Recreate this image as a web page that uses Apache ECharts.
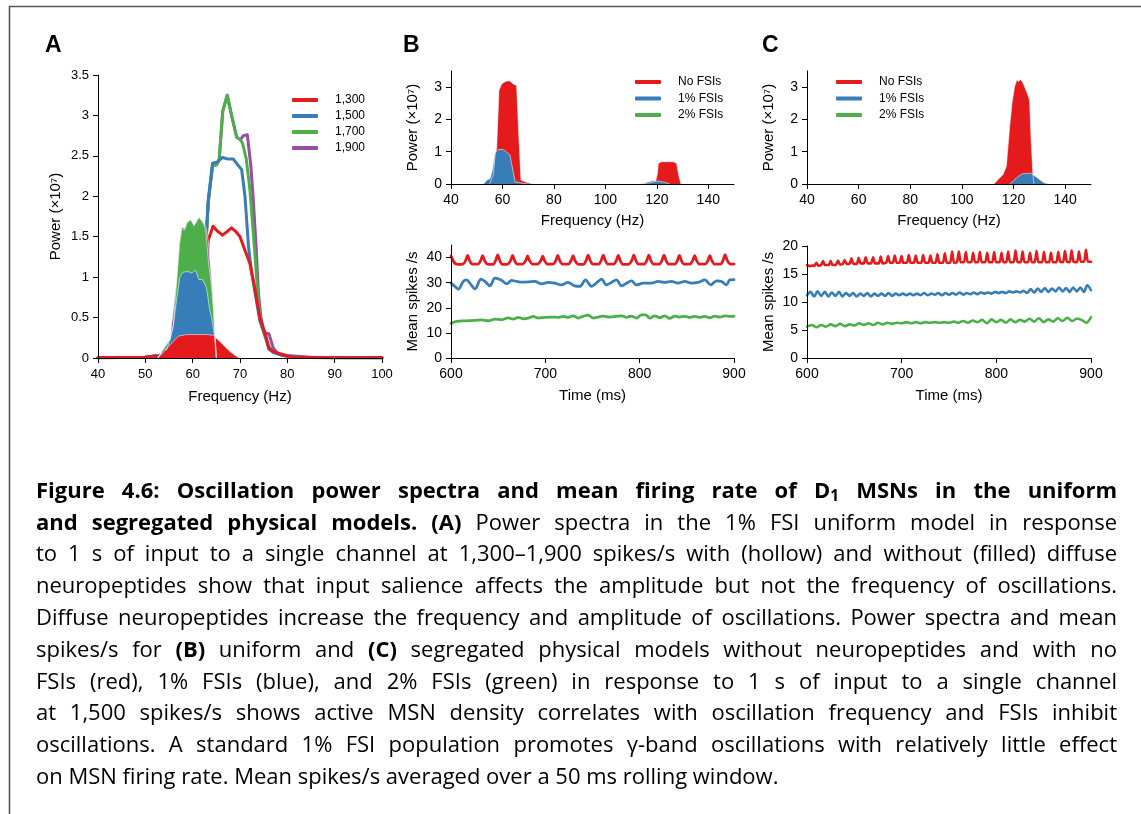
<!DOCTYPE html>
<html>
<head>
<meta charset="utf-8">
<script src="https://cdn.jsdelivr.net/npm/echarts@6/dist/echarts.min.js"></script>
<style>
html,body{margin:0;padding:0;background:#fff;}
#chart{width:1141px;height:814px;}
</style>
</head>
<body>
<div id="chart"></div>
<script>
// ---------------- DATA ----------------
// Panel A: power spectra (x10^7) vs frequency (Hz)
const aFreqTicks = [40, 50, 60, 70, 80, 90, 100];
const aPowerTicks = [0, 0.5, 1, 1.5, 2, 2.5, 3, 3.5];
const aLegend = ['1,300', '1,500', '1,700', '1,900'];

// hollow (with diffuse neuropeptides)
const aRedLineF = [40, 45, 50, 52, 53, 55, 58, 61, 62.5, 63.3, 64.3, 65.2, 66.3, 67.2, 68.2, 69.2, 70.0, 71.0, 72.1, 73.2, 74.2, 75.3, 76.1, 77.0, 78.1, 79.5, 81.3, 85, 90, 95, 100];
const aRedLineP = [0.005, 0.006, 0.01, 0.025, 0.01, 0.1, 0.25, 0.3, 0.6, 1.46, 1.63, 1.57, 1.52, 1.56, 1.61, 1.56, 1.5, 1.34, 1.17, 0.84, 0.49, 0.31, 0.12, 0.08, 0.06, 0.03, 0.01, 0.006, 0.004, 0.003, 0.002];
const aBlueLineF = [40, 50, 53, 55, 58, 61, 62.3, 63.3, 64.2, 65.05, 66.3, 67.5, 68.6, 69.5, 70.35, 71.05, 71.8, 72.4, 73.2, 74.2, 75.3, 76.1, 77.0, 79.0, 82, 90, 100];
const aBlueLineP = [0.004, 0.008, 0.03, 0.1, 0.3, 0.5, 0.9, 1.96, 2.41, 2.42, 2.48, 2.46, 2.46, 2.39, 2.33, 2.0, 1.38, 1.08, 0.8, 0.46, 0.28, 0.11, 0.07, 0.03, 0.01, 0.004, 0.002];
const aGreenLineF = [40, 50, 53, 55, 58, 61, 62.3, 63.3, 64.2, 65.05, 65.6, 66.35, 67.3, 68.3, 69.3, 70.1, 70.5, 71.3, 72.1, 72.6, 73.2, 73.8, 74.3, 75.2, 76.0, 77.0, 79.0, 82, 90, 100];
const aGreenLineP = [0.004, 0.008, 0.03, 0.1, 0.3, 0.5, 0.9, 1.93, 2.38, 2.39, 2.45, 3.05, 3.25, 2.98, 2.73, 2.7, 2.66, 2.47, 2.08, 1.7, 1.25, 0.75, 0.45, 0.28, 0.15, 0.08, 0.03, 0.01, 0.004, 0.002];
const aPurpleLineF = [40, 50, 53, 55, 58, 61, 62.3, 63.3, 64.2, 65.05, 65.6, 66.35, 67.3, 68.3, 69.3, 70.1, 70.7, 71.55, 72.3, 72.8, 73.4, 73.9, 74.4, 75.1, 76.1, 77.05, 77.9, 80, 85, 90, 100];
const aPurpleLineP = [0.004, 0.008, 0.03, 0.1, 0.3, 0.5, 0.9, 1.93, 2.38, 2.39, 2.45, 3.05, 3.25, 2.98, 2.73, 2.7, 2.75, 2.76, 2.37, 1.96, 1.38, 0.8, 0.51, 0.31, 0.3, 0.12, 0.06, 0.03, 0.01, 0.006, 0.003];

// filled (without diffuse neuropeptides)
const aRedFillF = [52.4, 53.5, 54.9, 56, 57.0, 58.7, 61, 63, 64.4, 65.8, 67.0, 67.9, 69.0, 69.8];
const aRedFillP = [0, 0.05, 0.14, 0.21, 0.27, 0.29, 0.29, 0.29, 0.28, 0.2, 0.13, 0.08, 0.03, 0];
const aBlueFillF = [52.7, 53.8, 54.5, 55.2, 55.9, 56.6, 57.3, 57.9, 59.0, 59.8, 60.6, 61.3, 62.1, 62.9, 63.6, 64.0, 64.6, 65.0];
const aBlueFillP = [0, 0.12, 0.1, 0.23, 0.39, 0.72, 1.0, 1.06, 1.07, 1.05, 1.09, 0.97, 0.97, 0.87, 0.6, 0.5, 0.28, 0];
const aGreenFillF = [52.7, 53.8, 55.2, 55.9, 56.6, 57.2, 57.7, 58.3, 58.7, 59.6, 60.3, 60.8, 61.3, 61.9, 62.4, 62.8, 63.45, 64.0, 64.4, 64.7, 65.0];
const aGreenFillP = [0, 0.12, 0.23, 0.4, 0.95, 1.4, 1.6, 1.58, 1.66, 1.71, 1.64, 1.68, 1.74, 1.7, 1.65, 1.55, 1.13, 0.88, 0.6, 0.3, 0];
const aPurpleFillF = [52.7, 55.2, 56.6, 57.2, 57.7, 58.3, 58.8, 59.6, 60.3, 61.3, 61.9, 62.8, 63.3, 63.8, 64.2, 64.6, 65.0];
const aPurpleFillP = [0, 0.23, 0.95, 1.42, 1.62, 1.6, 1.68, 1.71, 1.64, 1.74, 1.7, 1.62, 1.45, 1.1, 0.8, 0.4, 0];

// Panels B/C: spectra
const bcFreqTicks = [40, 60, 80, 100, 120, 140];
const bcPowerTicks = [0, 1, 2, 3];
const bcLegend = ['No FSIs', '1% FSIs', '2% FSIs'];

const bRedF = [55, 56.5, 57.2, 57.75, 58.65, 59.7, 61.0, 62.0, 62.9, 64.2, 65.5, 66.2, 67.2, 68.8, 70.7, 72, 113, 116, 118, 119.5, 120.2, 120.6, 121.9, 123.8, 126.4, 127.7, 128.6, 129.4];
const bRedP = [0, 0.3, 0.95, 1.1, 2.9, 3.1, 3.17, 3.19, 3.19, 3.1, 3.05, 1.77, 0.12, 0.07, 0.02, 0, 0, 0.02, 0.05, 0.08, 0.3, 0.64, 0.69, 0.69, 0.69, 0.64, 0.23, 0];
const bBlueF = [52.6, 53.9, 55.2, 56.1, 57.1, 58.4, 60.3, 61.0, 61.9, 62.9, 63.8, 64.9, 66.8, 68, 70, 114.1, 116.7, 118.6, 120.6, 123.2, 125.1];
const bBlueP = [0, 0.12, 0.17, 0.43, 0.95, 1.07, 1.07, 1.1, 0.97, 0.9, 0.54, 0.07, 0.04, 0.02, 0, 0, 0.07, 0.1, 0.09, 0.05, 0];
const bGreenF = [40, 150];
const bGreenP = [0, 0];

const cRedF = [112.4, 113.9, 115.9, 117.2, 118.5, 119.4, 120.4, 121.3, 121.9, 122.6, 123.4, 124.3, 125.3, 126.2, 126.8, 127.5, 127.9];
const cRedP = [0, 0.13, 0.29, 0.54, 1.78, 2.5, 3.01, 3.24, 3.17, 3.24, 3.17, 3.01, 2.81, 2.6, 1.37, 0.29, 0];
const cBlueF = [118.5, 119.7, 121.0, 122.3, 123.6, 124.9, 126.6, 127.5, 128.8, 130.5, 132, 134];
const cBlueP = [0, 0.08, 0.18, 0.26, 0.32, 0.32, 0.34, 0.29, 0.22, 0.11, 0.03, 0];
const cGreenF = [40, 150];
const cGreenP = [0, 0];

// Panels B/C: mean spikes/s vs time (ms)
const timeTicks = [600, 700, 800, 900];
const bRateTicks = [0, 10, 20, 30, 40];
const cRateTicks = [0, 5, 10, 15, 20];

const bRedT = [600, 602, 604.5, 608,
  612.6, 615.6, 617.6, 619.6, 622.6,
  628.5, 631.5, 633.5, 635.5, 638.5,
  644.5, 647.5, 649.5, 651.5, 654.5,
  660.3, 663.3, 665.3, 667.3, 670.3,
  676.2, 679.2, 681.2, 683.2, 686.2,
  692.2, 695.2, 697.2, 699.2, 702.2,
  708.2, 711.2, 713.2, 715.2, 718.2,
  724.4, 727.4, 729.4, 731.4, 734.4,
  740.4, 743.4, 745.4, 747.4, 750.4,
  756.4, 759.4, 761.4, 763.4, 766.4,
  772.3, 775.3, 777.3, 779.3, 782.3,
  788.8, 791.8, 793.8, 795.8, 798.8,
  804.7, 807.7, 809.7, 811.7, 814.7,
  820.8, 823.8, 825.8, 827.8, 830.8,
  837.1, 840.1, 842.1, 844.1, 847.1,
  853.3, 856.3, 858.3, 860.3, 863.3,
  869.4, 872.4, 874.4, 876.4, 879.4,
  885.6, 888.6, 890.6, 892.6, 895.6,
  900];
const bRedV = [40.6, 39.0, 37.6, 37.3,
  37.4, 38.9, 40.9, 38.9, 37.4,
  37.4, 38.9, 40.8, 38.9, 37.4,
  37.3, 39.0, 41.1, 39.0, 37.3,
  37.4, 38.9, 40.9, 38.9, 37.4,
  37.4, 38.8, 40.7, 38.8, 37.4,
  37.5, 38.8, 40.6, 38.8, 37.4,
  37.4, 38.9, 40.9, 38.9, 37.4,
  37.4, 38.9, 40.8, 38.9, 37.4,
  37.3, 39.0, 41.0, 39.0, 37.4,
  37.4, 39.0, 41.0, 39.0, 37.4,
  37.4, 38.9, 40.9, 38.9, 37.3,
  37.4, 39.0, 41.1, 39.0, 37.4,
  37.4, 39.0, 41.0, 39.0, 37.4,
  37.4, 39.0, 41.0, 39.0, 37.4,
  37.4, 38.9, 40.9, 38.9, 37.4,
  37.4, 38.9, 40.8, 38.9, 37.4,
  37.4, 38.9, 40.8, 38.9, 37.4,
  37.4, 39.1, 41.2, 39.1, 37.5,
  37.4];

const bBlueT = [600, 604, 607.8, 613, 616.6, 620, 625.4, 631.8, 636, 641.3, 646.6, 653, 659, 664.2, 669.5, 675, 682, 689, 696, 703, 710, 717, 724, 731.3, 736.6, 742.6, 749, 754, 759.6, 764.8, 770, 775.4, 780.7, 786, 791.3, 796.6, 803.7, 812.5, 819.6, 826.6, 833.7, 840.7, 847.8, 854.9, 862, 869, 875.3, 881.3, 886.6, 892, 895.5, 900];
const bBlueV = [29.8, 28.5, 27.4, 30.5, 31.1, 29.8, 27.5, 31.4, 30.5, 28.7, 31.8, 31.1, 29.5, 30.9, 30.5, 30.2, 30.3, 30.5, 29.5, 30.1, 29.8, 29.1, 30.1, 28.7, 28.5, 31.1, 28.5, 29.8, 31.4, 29.1, 30.1, 31.1, 28.7, 29.8, 30.7, 29.1, 29.8, 29.8, 30.5, 30.1, 30.5, 29.8, 30.5, 29.8, 30.1, 31.1, 29.1, 30.7, 30.5, 29.1, 31.1, 31.2];

const bGreenT = [600, 606, 614.8, 625.4, 632.5, 639.5, 646.6, 653.7, 660.7, 666, 671.3, 676.6, 682, 687.2, 692.5, 699.5, 706.6, 713.7, 719, 724.2, 729.5, 734.8, 740, 745.4, 750.7, 756, 761.3, 768.4, 775.4, 780.7, 786, 791.3, 796.6, 801.9, 806.2, 810.7, 816, 821.3, 826.6, 831.9, 837.2, 842.5, 847.8, 853.1, 858.4, 863.7, 869, 874.3, 879.6, 884.9, 890.2, 895.5, 900];
const bGreenV = [13.8, 14.6, 14.8, 15.0, 15.2, 14.8, 15.5, 15.2, 16.0, 15.5, 16.2, 15.6, 15.9, 16.6, 15.9, 16.2, 16.3, 16.2, 16.6, 16.2, 16.8, 15.9, 16.6, 17.1, 15.9, 16.3, 16.7, 16.3, 16.6, 16.8, 16.2, 16.7, 15.9, 17.2, 17.2, 15.9, 16.8, 16.0, 16.8, 15.8, 16.7, 16.3, 16.6, 16.2, 16.6, 16.2, 16.6, 16.0, 16.7, 16.3, 16.8, 16.6, 16.6];

const cRedT = [600, 603, 605, 607.9, 609.9, 611.9, 614.9, 616.9, 618.9, 623.0, 625.0, 627.0, 630.8, 632.8, 634.8, 637.8, 639.8, 641.8, 644.9, 646.9, 648.9, 652.6, 654.6, 656.6, 660.0, 662.0, 664.0, 667.8, 669.8, 671.8, 675.9, 677.9, 679.9, 683.7, 685.7, 687.7, 690.7, 692.7, 694.7, 697.8, 699.8, 701.8, 705.5, 707.5, 709.5, 712.9, 714.9, 716.9, 720.7, 722.7, 724.7, 728.4, 730.4, 732.4, 735.8, 737.8, 739.8, 743.6, 745.6, 747.6, 751.3, 753.3, 755.3, 758.4, 760.4, 762.4, 765.8, 767.8, 769.8, 773.5, 775.5, 777.5, 780.6, 782.6, 784.6, 788.3, 790.3, 792.3, 795.7, 797.7, 799.7, 803.5, 805.5, 807.5, 810.5, 812.5, 814.5, 818.3, 820.3, 822.3, 825.7, 827.7, 829.7, 833.5, 835.5, 837.5, 840.5, 842.5, 844.5, 848.3, 850.3, 852.3, 855.7, 857.7, 859.7, 863.4, 865.4, 867.4, 870.5, 872.5, 874.5, 877.5, 879.5, 881.5, 885.3, 887.3, 889.3, 892.7, 894.7, 896.7, 900];
const cRedV = [16.6, 16.4, 16.5, 16.5, 17.0, 16.5, 16.6, 17.3, 16.6, 16.6, 17.3, 16.6, 16.7, 17.4, 16.7, 16.8, 17.5, 16.8, 16.8, 17.8, 16.8, 16.8, 17.9, 16.9, 16.9, 18.0, 16.9, 16.9, 18.0, 16.9, 16.9, 18.1, 16.9, 17.0, 18.2, 17.0, 17.0, 18.3, 17.0, 17.0, 18.2, 17.0, 17.0, 18.4, 17.0, 17.0, 18.3, 17.0, 17.0, 18.4, 17.0, 17.0, 18.3, 17.0, 17.0, 18.5, 17.0, 17.0, 18.7, 17.0, 17.0, 19.0, 17.0, 17.1, 19.0, 17.1, 17.1, 18.9, 17.1, 17.1, 18.8, 17.1, 17.1, 18.9, 17.1, 17.1, 18.8, 17.1, 17.1, 18.9, 17.1, 17.1, 18.8, 17.1, 17.1, 19.0, 17.1, 17.1, 19.2, 17.1, 17.1, 19.0, 17.1, 17.1, 18.8, 17.1, 17.1, 19.1, 17.1, 17.1, 18.9, 17.1, 17.1, 18.8, 17.1, 17.1, 18.9, 17.2, 17.1, 19.1, 17.2, 17.1, 19.2, 17.2, 17.1, 19.0, 17.2, 17.2, 19.3, 17.2, 17.2];

const cBlueT = [600, 603.7, 607.5, 611.2, 615, 618.7, 622.5, 626.2, 630, 633.7, 637.5, 641.2, 645, 648.7, 652.5, 656.2, 660, 663.7, 667.5, 671.2, 675, 678.7, 682.5, 686.2, 690, 693.7, 697.5, 701.2, 705, 708.7, 712.5, 716.2, 720, 723.7, 727.5, 731.2, 735, 738.7, 742.5, 746.2, 750, 753.7, 757.5, 761.2, 765, 768.7, 772.5, 776.2, 780, 783.7, 787.5, 791.2, 795, 798.7, 802.5, 806.2, 810, 813.7, 817.5, 821.2, 825, 828.7, 832.5, 836.2, 840, 843.7, 847.5, 851.2, 855, 858.7, 862.5, 866.2, 870, 873.7, 877.5, 881.2, 885, 888.7, 892.5, 896.2, 900];
const cBlueV = [11.2, 11.8, 11.0, 11.9, 11.1, 11.8, 11.0, 11.7, 11.1, 11.8, 11.0, 11.6, 11.1, 11.6, 11.0, 11.5, 11.1, 11.6, 11.0, 11.5, 11.1, 11.5, 11.1, 11.6, 11.1, 11.5, 11.2, 11.5, 11.2, 11.5, 11.2, 11.5, 11.2, 11.6, 11.2, 11.5, 11.3, 11.6, 11.2, 11.6, 11.3, 11.6, 11.3, 11.7, 11.3, 11.6, 11.4, 11.7, 11.4, 11.7, 11.5, 11.7, 11.5, 11.8, 11.6, 11.8, 11.6, 11.9, 11.7, 11.9, 11.7, 12.0, 11.6, 12.3, 11.7, 12.4, 11.8, 12.5, 11.8, 12.4, 11.9, 12.6, 11.9, 12.5, 11.8, 12.6, 11.9, 12.6, 11.8, 13.0, 12.1];

const cGreenT = [600, 605, 610, 615, 620, 625, 630, 635, 640, 645, 650, 655, 660, 665, 670, 675, 680, 685, 690, 695, 700, 705, 710, 715, 720, 725, 730, 735, 740, 745, 750, 755, 760, 765, 770, 775, 780, 785, 790, 795, 800, 805, 810, 815, 820, 825, 830, 835, 840, 845, 850, 855, 860, 865, 870, 875, 880, 885, 890, 895, 900];
const cGreenV = [5.6, 5.9, 5.5, 5.9, 5.6, 6.0, 5.7, 6.1, 5.7, 6.0, 5.8, 6.2, 5.9, 6.2, 5.9, 6.3, 6.0, 6.3, 6.1, 6.3, 6.2, 6.4, 6.2, 6.4, 6.2, 6.4, 6.3, 6.4, 6.3, 6.4, 6.3, 6.5, 6.3, 6.6, 6.3, 6.7, 6.4, 6.8, 6.2, 6.9, 6.4, 6.8, 6.3, 6.9, 6.4, 6.8, 6.5, 7.0, 6.5, 7.1, 6.4, 6.9, 6.5, 7.1, 6.6, 7.2, 6.6, 7.0, 6.8, 6.3, 7.3];

// Caption (bold spans between *...*, D_1 = D with subscript 1)
const captionLines = [
  '*Figure 4.6: Oscillation power spectra and mean firing rate of D_1 MSNs in the uniform*',
  '*and segregated physical models. (A)* Power spectra in the 1% FSI uniform model in response',
  'to 1 s of input to a single channel at 1,300–1,900 spikes/s with (hollow) and without (filled) diffuse',
  'neuropeptides show that input salience affects the amplitude but not the frequency of oscillations.',
  'Diffuse neuropeptides increase the frequency and amplitude of oscillations. Power spectra and mean',
  'spikes/s for *(B)* uniform and *(C)* segregated physical models without neuropeptides and with no',
  'FSIs (red), 1% FSIs (blue), and 2% FSIs (green) in response to 1 s of input to a single channel',
  'at 1,500 spikes/s shows active MSN density correlates with oscillation frequency and FSIs inhibit',
  'oscillations. A standard 1% FSI population promotes γ-band oscillations with relatively little effect',
  'on MSN firing rate. Mean spikes/s averaged over a 50 ms rolling window.'
];

// ---------------- CHART ----------------
const RED = '#e41a1c', BLUE = '#377eb8', GREEN = '#4daf4a', PURPLE = '#984ea3';
const FONT = 'Liberation Sans';
const pairs = (xs, ys) => xs.map((x, i) => [x, ys[i]]);

function axis(gridIndex, min, max, ticks, o) {
  return Object.assign({
    type: 'value', gridIndex, min, max, z: 10,
    axisLine: { show: true, onZero: false, lineStyle: { color: '#000', width: 1 } },
    axisTick: { show: true, length: 5, customValues: ticks, lineStyle: { color: '#000', width: 1 } },
    axisLabel: { customValues: ticks, color: '#000', fontFamily: FONT, fontSize: o.fs || 13, margin: o.margin || 8 },
    splitLine: { show: false },
    nameLocation: 'middle',
    nameTextStyle: { color: '#000', fontFamily: FONT, fontSize: 15 }
  }, o.extra || {});
}

const grids = [
  { left: 98, top: 75, width: 284, height: 283 },
  { left: 451, top: 71, width: 283, height: 113 },
  { left: 451, top: 245, width: 283, height: 113 },
  { left: 807, top: 71, width: 284, height: 113 },
  { left: 807, top: 246, width: 284, height: 112 }
];

const xAxes = [
  axis(0, 40, 100, aFreqTicks, { fs: 13, margin: 10, extra: { name: 'Frequency (Hz)', nameGap: 31 } }),
  axis(1, 40, 150, bcFreqTicks, { fs: 14, margin: 9, extra: { name: 'Frequency (Hz)', nameGap: 29 } }),
  axis(2, 600, 900, timeTicks, { fs: 14, margin: 9, extra: { name: 'Time (ms)', nameGap: 30 } }),
  axis(3, 40, 150, bcFreqTicks, { fs: 14, margin: 9, extra: { name: 'Frequency (Hz)', nameGap: 29 } }),
  axis(4, 600, 900, timeTicks, { fs: 14, margin: 9, extra: { name: 'Time (ms)', nameGap: 30 } })
];
const yAxes = [
  axis(0, 0, 3.5, aPowerTicks, { fs: 13, margin: 9, extra: { name: 'Power (×10⁷)', nameGap: 35 } }),
  axis(1, 0, 3.5, bcPowerTicks, { fs: 14, margin: 9, extra: { name: 'Power (×10⁷)', nameGap: 31 } }),
  axis(2, 0, 45, bRateTicks, { fs: 14, margin: 9, extra: { name: 'Mean spikes /s', nameGap: 31 } }),
  axis(3, 0, 3.5, bcPowerTicks, { fs: 14, margin: 9, extra: { name: 'Power (×10⁷)', nameGap: 31 } }),
  axis(4, 0, 20, cRateTicks, { fs: 14, margin: 9, extra: { name: 'Mean spikes /s', nameGap: 31 } })
];

function lineS(name, idx, xs, ys, color, w, smooth) {
  return {
    type: 'line', name, xAxisIndex: idx, yAxisIndex: idx, data: pairs(xs, ys),
    showSymbol: false, symbol: 'none', smooth: smooth || false, z: 2,
    lineStyle: { color, width: w, join: 'round', cap: 'round' }, itemStyle: { color },
    emphasis: { disabled: true }
  };
}
function areaS(name, idx, xs, ys, color, edge) {
  return {
    type: 'line', name, xAxisIndex: idx, yAxisIndex: idx, data: pairs(xs, ys),
    showSymbol: false, symbol: 'none', z: 3,
    lineStyle: { color: 'rgba(255,255,255,0.55)', width: edge === undefined ? 1 : edge },
    itemStyle: { color }, areaStyle: { color, opacity: 1 },
    emphasis: { disabled: true }
  };
}

const series = [
  // A hollow lines
  lineS('1,900', 0, aPurpleLineF, aPurpleLineP, PURPLE, 3),
  lineS('1,700', 0, aGreenLineF, aGreenLineP, GREEN, 3),
  lineS('1,500', 0, aBlueLineF, aBlueLineP, BLUE, 3),
  lineS('1,300', 0, aRedLineF, aRedLineP, RED, 3),
  // A filled areas
  areaS('1,900 filled', 0, aPurpleFillF, aPurpleFillP, PURPLE),
  areaS('1,700 filled', 0, aGreenFillF, aGreenFillP, GREEN),
  areaS('1,500 filled', 0, aBlueFillF, aBlueFillP, BLUE),
  areaS('1,300 filled', 0, aRedFillF, aRedFillP, RED),
  // B spectra
  areaS('No FSIs', 1, bRedF, bRedP, RED),
  areaS('1% FSIs', 1, bBlueF, bBlueP, BLUE),
  areaS('2% FSIs', 1, bGreenF, bGreenP, GREEN, 0),
  // B rates
  lineS('No FSIs', 2, bRedT, bRedV, RED, 2.8, 0.3),
  lineS('1% FSIs', 2, bBlueT, bBlueV, BLUE, 2.8, 0.3),
  lineS('2% FSIs', 2, bGreenT, bGreenV, GREEN, 2.8, 0.3),
  // C spectra
  areaS('No FSIs', 3, cRedF, cRedP, RED),
  areaS('1% FSIs', 3, cBlueF, cBlueP, BLUE),
  areaS('2% FSIs', 3, cGreenF, cGreenP, GREEN, 0),
  // C rates
  lineS('No FSIs', 4, cRedT, cRedV, RED, 2.6, 0.2),
  lineS('1% FSIs', 4, cBlueT, cBlueV, BLUE, 2.6, 0.3),
  lineS('2% FSIs', 4, cGreenT, cGreenV, GREEN, 2.6, 0.3)
];

function legendAt(left, top, data, gap) {
  return {
    left, top, orient: 'vertical', data, selectedMode: false, padding: 0,
    icon: 'roundRect', itemWidth: 26, itemHeight: 4, itemGap: gap,
    textStyle: { color: '#000', fontFamily: FONT, fontSize: 12, lineHeight: 14, padding: [0, 0, 0, 12] }
  };
}

// ---------- caption (justified, measured with canvas) ----------
const CAP_FONT = 'Open Sans', CAP_FS0 = 22, CAP_L = 36, CAP_R = 1117, CAP_Y0 = 491.5, CAP_DY = 31.8;
const mctx = document.createElement('canvas').getContext('2d');
function measure(t, bold, fs) {
  mctx.font = (bold ? 'bold ' : '') + fs + 'px "' + CAP_FONT + '"';
  return mctx.measureText(t).width;
}
function parseLine(s) {
  const out = []; let bold = false;
  for (let w of s.split(' ')) {
    let b = bold, endB = false;
    if (w.startsWith('*')) { w = w.slice(1); b = true; bold = true; }
    if (w.endsWith('*')) { w = w.slice(0, -1); endB = true; }
    out.push({ t: w, b });
    if (endB) bold = false;
  }
  return out;
}
function layoutWords(words, fs) {
  words.forEach(wd => {
    if (wd.t.indexOf('_') >= 0) {
      const [main, sub] = wd.t.split('_');
      wd.parts = [{ t: main, fs: fs, dy: 0 }, { t: sub, fs: fs * 0.7, dy: fs * 0.22 }];
    } else wd.parts = [{ t: wd.t, fs: fs, dy: 0 }];
    wd.parts.forEach(p => p.w = measure(p.t, wd.b, p.fs));
    wd.w = wd.parts.reduce((s, p) => s + p.w, 0);
  });
  return words.reduce((s, w) => s + w.w, 0) + measure(' ', false, fs) * (words.length - 1);
}
const parsed = captionLines.map(parseLine);
let maxNat = 0;
parsed.forEach((w, i) => { if (i < parsed.length - 1) maxNat = Math.max(maxNat, layoutWords(w, CAP_FS0)); });
const CAP_FS = Math.min(CAP_FS0, CAP_FS0 * (CAP_R - CAP_L) / maxNat);

const graphics = [];
parsed.forEach((words, li) => {
  layoutWords(words, CAP_FS);
  const total = words.reduce((s, w) => s + w.w, 0);
  const last = li === parsed.length - 1;
  const gap = last ? measure(' ', false, CAP_FS) : (CAP_R - CAP_L - total) / (words.length - 1);
  let x = CAP_L;
  const y = CAP_Y0 + li * CAP_DY;
  words.forEach(wd => {
    let px = x;
    wd.parts.forEach(p => {
      graphics.push({
        type: 'text', x: px, y: y + p.dy,
        style: { text: p.t, fontFamily: CAP_FONT, fontSize: p.fs, fontWeight: wd.b ? 'bold' : 'normal', fill: '#000', verticalAlign: 'middle' }
      });
      px += p.w;
    });
    x += wd.w + gap;
  });
});

// frame and panel letters
graphics.push({ type: 'polyline', shape: { points: [[9.5, 814], [9.5, 6.5], [1141, 6.5]] }, style: { stroke: '#555', lineWidth: 1.6, fill: null } });
[['A', 45], ['B', 403], ['C', 762]].forEach(([t, x]) => graphics.push({
  type: 'text', x, y: 46, style: { text: t, fontFamily: FONT, fontSize: 23, fontWeight: 'bold', fill: '#000', verticalAlign: 'middle' }
}));

const chart = echarts.init(document.getElementById('chart'), null, { renderer: 'canvas', width: 1141, height: 814 });
chart.setOption({
  animation: false,
  backgroundColor: '#fff',
  grid: grids,
  xAxis: xAxes,
  yAxis: yAxes,
  legend: [legendAt(292, 93, aLegend, 2), legendAt(635, 75, bcLegend, 2.5), legendAt(836, 75, bcLegend, 2.5)],
  series,
  graphic: graphics
});
</script>
</body>
</html>
